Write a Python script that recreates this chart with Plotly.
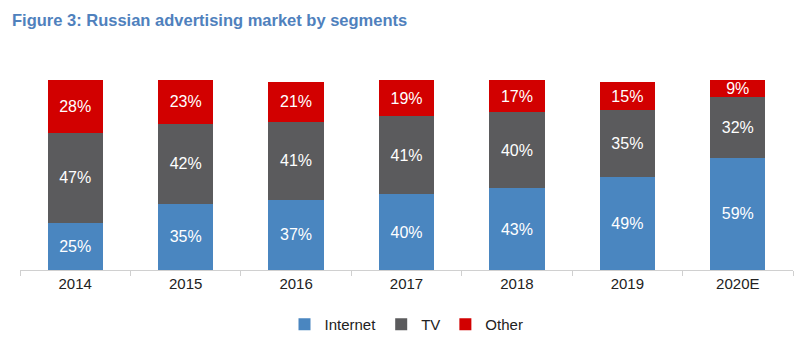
import plotly.graph_objects as go

categories = ["2014", "2015", "2016", "2017", "2018", "2019", "2020E"]
internet = [25, 35, 37, 40, 43, 49, 59]
tv = [47, 42, 41, 41, 40, 35, 32]
other = [28, 23, 21, 19, 17, 15, 9]

series = [("Internet", internet, "#4a86c0"), ("TV", tv, "#5b5b5d"), ("Other", other, "#d20000")]

fig = go.Figure()
for name, vals, col in series:
    fig.add_trace(go.Bar(
        x=categories, y=vals, name=name, marker=dict(color=col, line=dict(width=0)),
        texttemplate="%{y}%", textposition="inside", insidetextanchor="middle",
        textfont=dict(color="white", size=16, family="Liberation Sans, Arial, sans-serif"),
        width=0.5,
    ))

fig.update_layout(
    barmode="stack",
    width=809, height=354,
    margin=dict(l=20, r=16, t=80, b=84),
    plot_bgcolor="white", paper_bgcolor="white",
    title=dict(text="<b>Figure 3: Russian advertising market by segments</b>",
               x=12 / 809, xref="container", xanchor="left", y=1 - 20 / 354, yref="container", yanchor="middle",
               font=dict(family="Liberation Sans, Arial, sans-serif", size=16.5, color="#4f81bd")),
    showlegend=True,
    legend=dict(orientation="h", x=0.5, xanchor="center", y=-0.2, yanchor="top",
                font=dict(family="Liberation Sans, Arial, sans-serif", size=15, color="#222"),
                traceorder="normal", itemwidth=30),
    uniformtext=dict(minsize=16, mode="show"),
)
fig.update_xaxes(showline=True, linecolor="#d0d0d0", linewidth=1, ticks="outside", tickson="boundaries",
                 ticklen=5, tickcolor="#d0d0d0",
                 tickfont=dict(family="Liberation Sans, Arial, sans-serif", size=15, color="#222"))
fig.update_yaxes(range=[0, 100], visible=False, showgrid=False)

fig.write_html("out.html")
